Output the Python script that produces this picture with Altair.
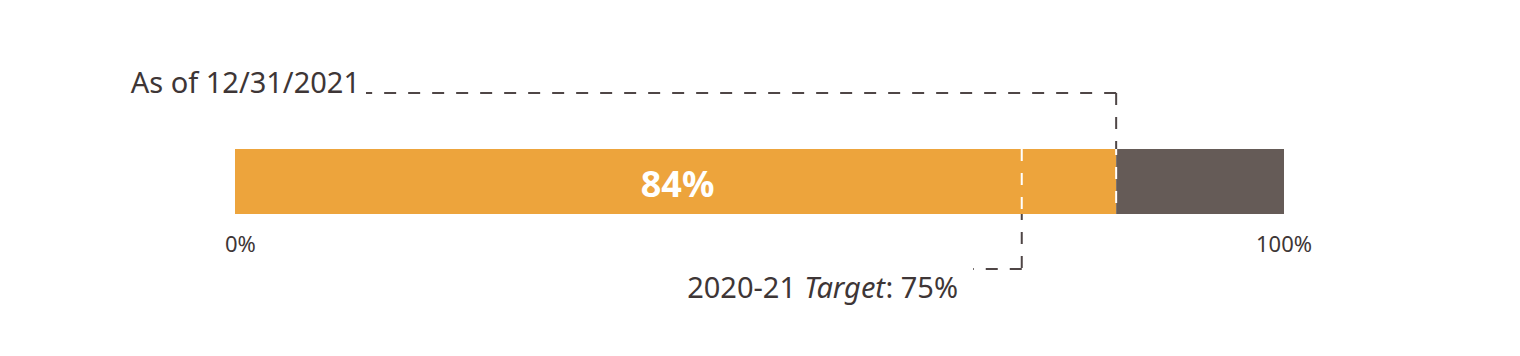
import altair as alt
import pandas as pd

# ---- data ----
seg_start = [0, 84]
seg_end = [84, 100]
seg_color = ["#EDA43C", "#655B57"]
actual = 84
target = 75
tick_values = [0, 100]
tick_labels = ["0%", "100%"]
actual_label = "84%"
date_label = "As of 12/31/2021"
target_parts = ["2020-21", "Target", ": 75%"]

FONT = "Noto Sans"
TXT = "#3E3636"
DARK = "#4F4646"
xscale = alt.Scale(domain=[0, 100], nice=False, zero=False)

bars_df = pd.DataFrame({"s": seg_start, "e": seg_end, "c": seg_color})
bars = alt.Chart(bars_df).mark_rect().encode(
    x=alt.X("s:Q", scale=xscale, axis=None),
    x2="e:Q",
    y=alt.value(149), y2=alt.value(214),
    color=alt.Color("c:N", scale=None),
)

one = pd.DataFrame({"a": [actual], "t": [target], "lbl": [actual_label], "mid": [actual / 2]})

pct = alt.Chart(one).mark_text(font=FONT, fontWeight="bold", fontSize=36, color="white",
                               align="center", baseline="alphabetic", dx=2).encode(
    x=alt.X("mid:Q", scale=xscale, axis=None), y=alt.value(197), text="lbl:N")

dash = [12, 12]
# actual annotation
a_h = alt.Chart(one).mark_rule(stroke=DARK, strokeWidth=2, strokeDash=dash).encode(
    x=alt.X("a:Q", scale=xscale, axis=None), x2=alt.value(131), y=alt.value(93))
a_v = alt.Chart(one).mark_rule(stroke=DARK, strokeWidth=2, strokeDash=dash).encode(
    x=alt.X("a:Q", scale=xscale, axis=None), y=alt.value(93), y2=alt.value(149))
a_vw = alt.Chart(one).mark_rule(stroke="white", strokeWidth=2, strokeDash=dash, strokeDashOffset=6).encode(
    x=alt.X("a:Q", scale=xscale, axis=None), y=alt.value(149), y2=alt.value(214))
a_txt = alt.Chart(one).mark_text(font=FONT, fontSize=29, color=TXT, align="right",
                                 baseline="alphabetic").encode(
    x=alt.value(125), y=alt.value(93), text=alt.value(date_label))

# target annotation
t_vw = alt.Chart(one).mark_rule(stroke="white", strokeWidth=2, strokeDash=dash).encode(
    x=alt.X("t:Q", scale=xscale, axis=None), y=alt.value(149), y2=alt.value(214))
t_v = alt.Chart(one).mark_rule(stroke=DARK, strokeWidth=2, strokeDash=dash, strokeDashOffset=6).encode(
    x=alt.X("t:Q", scale=xscale, axis=None), y=alt.value(214), y2=alt.value(269))
t_h = alt.Chart(one).mark_rule(stroke=DARK, strokeWidth=2, strokeDash=dash).encode(
    x=alt.X("t:Q", scale=xscale, axis=None), x2=alt.value(738), y=alt.value(269))

t1 = alt.Chart(one).mark_text(font=FONT, fontSize=29, color=TXT, align="right", baseline="alphabetic").encode(
    x=alt.value(561), y=alt.value(298), text=alt.value(target_parts[0]))
t2 = alt.Chart(one).mark_text(font=FONT, fontSize=29, fontStyle="italic", color=TXT, align="right",
                              baseline="alphabetic").encode(
    x=alt.value(650), y=alt.value(298), text=alt.value(target_parts[1]))
t3 = alt.Chart(one).mark_text(font=FONT, fontSize=29, color=TXT, align="right", baseline="alphabetic").encode(
    x=alt.value(723), y=alt.value(298), text=alt.value(target_parts[2]))

ticks_df = pd.DataFrame({"v": tick_values, "l": tick_labels})
tick_lo = alt.Chart(ticks_df).transform_filter(alt.datum.v == tick_values[0]).mark_text(
    font=FONT, fontSize=22, color=TXT, align="left", baseline="alphabetic", dx=-10).encode(
    x=alt.X("v:Q", scale=xscale, axis=None), y=alt.value(252), text="l:N")
tick_hi = alt.Chart(ticks_df).transform_filter(alt.datum.v == tick_values[1]).mark_text(
    font=FONT, fontSize=22, color=TXT, align="center", baseline="alphabetic").encode(
    x=alt.X("v:Q", scale=xscale, axis=None), y=alt.value(252), text="l:N")

chart = alt.layer(bars, pct, a_h, a_v, a_vw, a_txt, t_vw, t_v, t_h, t1, t2, t3, tick_lo, tick_hi).properties(
    width=1049, height=356,
    autosize=alt.AutoSizeParams(type="none"),
    padding={"left": 235, "right": 236, "top": 0, "bottom": 0},
    background="white",
).configure_view(stroke=None)

chart.save("out.html", embed_options={"renderer": "svg", "actions": False})
